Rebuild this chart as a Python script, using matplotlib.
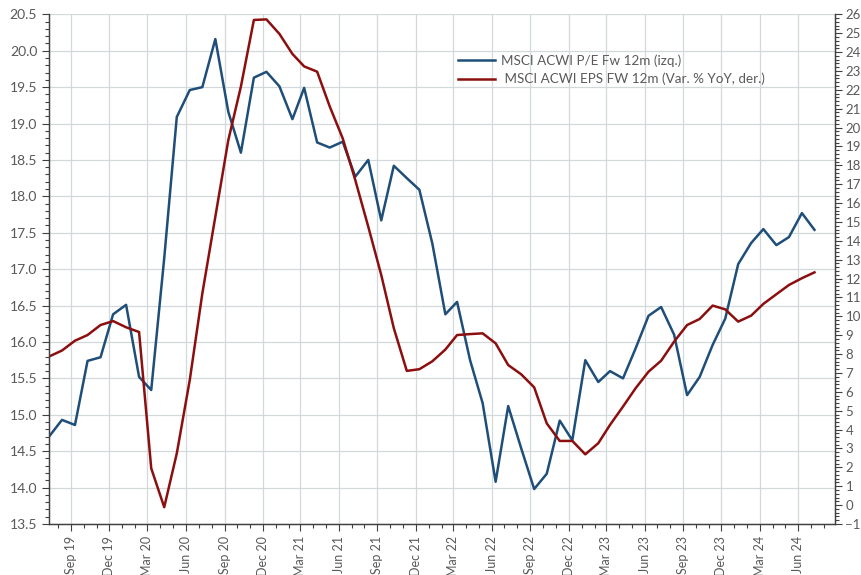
import matplotlib
matplotlib.use("Agg")
import matplotlib.pyplot as plt
import matplotlib.dates as md
import matplotlib.ticker as mt
import pandas as pd

# monthly observations, Jul 2019 -> Jul 2024
dates = pd.date_range('2019-07-01', periods=61, freq='MS') + pd.Timedelta(days=9)

pe_fw12m = [
    14.70, 14.93, 14.86, 15.74, 15.79, 16.38, 16.51, 15.52, 15.34, 17.15,
    19.09, 19.46, 19.50, 20.16, 19.16, 18.60, 19.63, 19.71, 19.51, 19.06,
    19.49, 18.74, 18.67, 18.75, 18.27, 18.50, 17.67, 18.42, 18.25, 18.09,
    17.35, 16.38, 16.55, 15.75, 15.16, 14.08, 15.12, 14.54, 13.98, 14.19,
    14.92, 14.65, 15.75, 15.45, 15.60, 15.50, 15.91, 16.36, 16.48, 16.10,
    15.27, 15.52, 15.96, 16.32, 17.07, 17.36, 17.55, 17.33, 17.44, 17.77,
    17.54,
]

eps_yoy = [
    7.87, 8.19, 8.71, 9.01, 9.54, 9.75, 9.42, 9.17, 1.95, -0.11,
    2.74, 6.63, 11.22, 15.28, 19.34, 22.17, 25.70, 25.73, 24.96, 23.90,
    23.24, 22.96, 21.12, 19.43, 17.22, 14.75, 12.19, 9.37, 7.11, 7.20,
    7.62, 8.24, 9.01, 9.06, 9.10, 8.57, 7.42, 6.93, 6.24, 4.33,
    3.40, 3.40, 2.69, 3.28, 4.25, 5.22, 6.19, 7.07, 7.65, 8.66,
    9.54, 9.86, 10.57, 10.37, 9.72, 10.04, 10.66, 11.17, 11.66, 12.02,
    12.33,
]

label_pe = 'MSCI ACWI P/E Fw 12m (izq.)'
label_eps = ' MSCI ACWI EPS FW 12m (Var. % YoY, der.)'

txt = '#595959'
plt.rcParams['font.family'] = ['Lato', 'DejaVu Sans']
plt.rcParams['font.size'] = 9.5

fig = plt.figure(figsize=(8.61, 5.75), dpi=100)
ax = fig.add_axes([49 / 861, 1 - 524 / 575, (835 - 49) / 861, (524 - 14.3) / 575])
ax2 = ax.twinx()

l1, = ax.plot(dates, pe_fw12m, color='#1f4e79', lw=1.8, label=label_pe)
l2, = ax2.plot(dates, eps_yoy, color='#8b0f0f', lw=1.8, label=label_eps)

ax.set_xlim(dates[0], pd.Timestamp('2024-08-28'))
ax.set_ylim(13.5, 20.5)
ax2.set_ylim(-1, 26)

ax.xaxis.set_major_locator(md.MonthLocator(bymonth=[3, 6, 9, 12]))
ax.xaxis.set_minor_locator(md.MonthLocator())
ax.xaxis.set_major_formatter(md.DateFormatter('%b %y'))
ax.yaxis.set_major_locator(mt.MultipleLocator(0.5))
ax.yaxis.set_minor_locator(mt.MultipleLocator(0.1))
ax.yaxis.set_major_formatter(mt.FormatStrFormatter('%.1f'))
ax2.yaxis.set_major_locator(mt.MultipleLocator(1))
ax2.yaxis.set_minor_locator(mt.MultipleLocator(0.2))

ax.grid(True, which='major', color='#d3d8db', lw=0.9)
ax.set_axisbelow(True)

for a in (ax, ax2):
    a.spines['top'].set_visible(False)
    for s in ('left', 'right', 'bottom'):
        a.spines[s].set_color('#404040')
        a.spines[s].set_linewidth(0.9)
    a.tick_params(which='both', colors='#404040', labelcolor=txt, width=0.8)
    a.tick_params(which='major', length=5)
    a.tick_params(which='minor', length=3)

ax.tick_params(axis='x', labelrotation=90, labelsize=9)
ax.tick_params(axis='y', labelsize=10)
ax2.tick_params(axis='y', labelsize=9.5, pad=2.5)

leg = fig.legend(handles=[l1, l2], loc='upper left',
                 bbox_to_anchor=(446 / 861, 1 - 42 / 575), frameon=False,
                 fontsize=9.75, handlelength=2.7, handletextpad=0.45,
                 labelspacing=0.45)
for t in leg.get_texts():
    t.set_color(txt)

fig.savefig('out.png', dpi=100)
